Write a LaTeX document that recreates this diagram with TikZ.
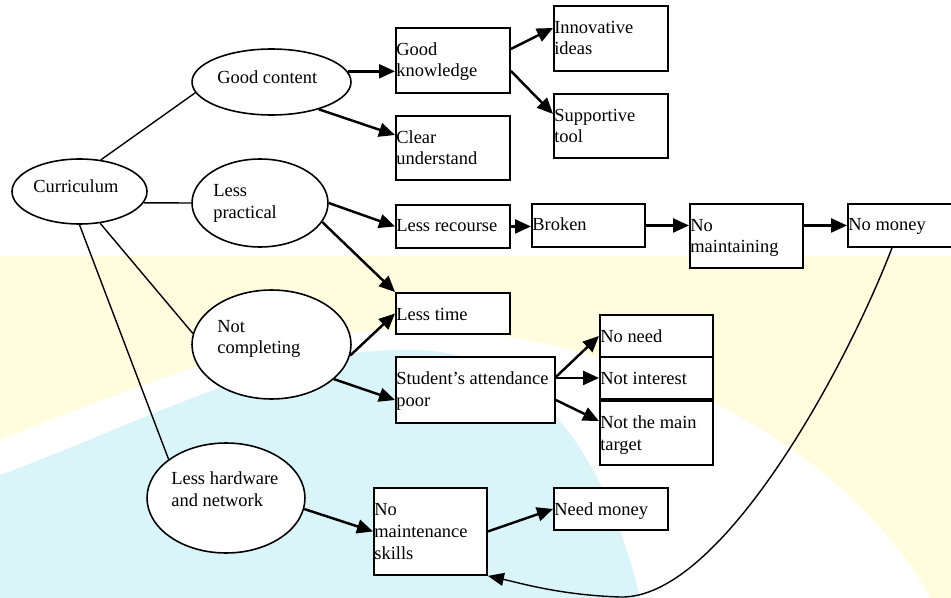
\documentclass[tikz,border=0pt]{standalone}
\usepackage{fontspec}
\setmainfont{Liberation Serif}
\usepackage{xcolor}
\usetikzlibrary{shapes.geometric,arrows.meta,calc}

\definecolor{bgyellow}{RGB}{255,253,222}
\definecolor{bgcyan}{RGB}{218,245,250}

\begin{document}
\begin{tikzpicture}[x=0.02cm,y=-0.02cm,
  oval/.style={draw,ellipse,line width=0.9pt,fill=white,inner sep=0pt},
  box/.style={draw,rectangle,line width=1.1pt,fill=white,anchor=north west,inner sep=0pt},
  txt/.style={anchor=base west,align=left,inner sep=0pt,font=\fontsize{10.5}{12.5}\selectfont},
  link/.style={line width=0.8pt},
  arr/.style={line width=1.4pt,-{Triangle[length=0.32cm,width=0.28cm]}}]

\useasboundingbox (0,0) rectangle (951,598);

% Background
\fill[bgyellow] (0,256) rectangle (951,598);
\fill[white] (0,440) .. controls (150,380) and (300,320) .. (450,330)
  .. controls (650,345) and (850,450) .. (930,598) -- (0,598) -- cycle;
\fill[bgcyan] (0,475) .. controls (150,420) and (280,345) .. (420,350)
  .. controls (520,355) and (600,430) .. (640,598) -- (0,598) -- cycle;

% Ovals
\node[oval,minimum width=2.70cm,minimum height=1.30cm] (cur) at (79.5,191.5) {};
\node[oval,minimum width=3.18cm,minimum height=1.32cm] (gc) at (271.5,82) {};
\node[oval,minimum width=2.72cm,minimum height=1.76cm] (lp) at (260,203) {};
\node[oval,minimum width=3.18cm,minimum height=2.18cm] (nc) at (271.5,344.5) {};
\node[oval,minimum width=3.16cm,minimum height=2.20cm] (lh) at (226,498) {};

% base of the last line
\node[txt] (curt) at (33,193) {Curriculum};
\node[txt] (gct) at (217,84) {Good content};
\node[txt] (lpt) at (213,218) {Less\\practical};
\node[txt] (nct) at (217,354) {Not\\completing};
\node[txt] (lht) at (171,506) {Less hardware\\and network};

% Boxes
\node[box,minimum width=2.28cm,minimum height=1.30cm] (gk) at (395,27) {};
\node[box,minimum width=2.28cm,minimum height=1.28cm] (cu) at (395,115) {};
\node[box,minimum width=2.28cm,minimum height=1.30cm] (ii) at (553,5) {};
\node[box,minimum width=2.28cm,minimum height=1.28cm] (st) at (553,93) {};
\node[box,minimum width=2.28cm,minimum height=0.86cm] (lr) at (395,204) {};
\node[box,minimum width=2.26cm,minimum height=0.86cm] (br) at (531,203) {};
\node[box,minimum width=2.26cm,minimum height=1.28cm] (nm) at (689,203) {};
\node[box,minimum width=2.20cm,minimum height=0.86cm] (nmo) at (847,203) {};
\node[box,minimum width=2.28cm,minimum height=0.82cm] (lt) at (395,292) {};
\node[box,minimum width=3.18cm,minimum height=1.32cm] (sa) at (395,356) {};
\node[box,minimum width=2.26cm,minimum height=0.84cm] (nn) at (599,314) {};
\node[box,minimum width=2.26cm,minimum height=0.84cm] (ni) at (599,356) {};
\node[box,minimum width=2.26cm,minimum height=1.28cm] (nt) at (599,400) {};
\node[box,minimum width=2.26cm,minimum height=1.74cm] (nms) at (373,487) {};
\node[box,minimum width=2.28cm,minimum height=0.84cm] (nd) at (553,487) {};

\node[txt] (gkt) at (396,77) {Good\\knowledge};
\node[txt] (cut) at (396,165) {Clear\\understand};
\node[txt] (iit) at (554,55) {Innovative\\ideas};
\node[txt] (stt) at (554,143) {Supportive\\tool};
\node[txt] (lrt) at (396,232) {Less recourse};
\node[txt] (brt) at (532,231) {Broken};
\node[txt] (nmt) at (690,253) {No\\maintaining};
\node[txt] (nmot) at (848,231) {No money};
\node[txt] (ltt) at (396,320) {Less time};
\node[txt] (sat) at (396,406) {Student’s attendance\\poor};
\node[txt] (nnt) at (600,342) {No need};
\node[txt] (nit) at (600,384) {Not interest};
\node[txt] (ntt) at (600,450) {Not the main\\target};
\node[txt] (nmst) at (374,559) {No\\maintenance\\skills};
\node[txt] (ndt) at (554,515) {Need money};

% Lines from Curriculum
\draw[link] (cur.56) -- (gc.188);
\draw[link] (cur.350) -- (lp.west);
\draw[link] (cur.303) -- (nc.172);
\draw[link] (cur.270) -- (lh.146);

% Arrows
\draw[arr] (gc.8) -- (gc.8 -| gk.west);
\draw[arr] (gc.330) -- ($(cu.north west)+(0,20)$);
\draw[arr] ($(gk.north east)+(0,22)$) -- ($(ii.north west)+(0,23)$);
\draw[arr] ($(gk.north east)+(0,44)$) -- ($(st.north west)+(0,21)$);
\draw[arr] (lp.east) -- (lr.west);
\draw[arr] (lp.343) -- (lt.north west);
\draw[arr] (lr.east) -- (lr.east -| br.west);
\draw[arr] (br.east) -- (br.east -| nm.west);
\draw[arr] (br.east -| nm.east) -- (br.east -| nmo.west);
\draw[arr] (nc.352) -- (lt.west);
\draw[arr] (nc.331) -- ($(sa.north west)+(0,44)$);
\draw[arr] ($(sa.north east)+(0,21)$) -- (nn.west);
\draw[arr] (ni.west -| sa.east) -- (ni.west);
\draw[arr] ($(sa.north east)+(0,44)$) -- ($(nt.north west)+(0,21)$);
\draw[arr] (lh.352) -- (nms.west);
\draw[arr] (nms.east) -- (nd.west);

% Curve back from No money
\draw[link,-{Triangle[length=0.32cm,width=0.26cm]}] ($(nmo.south west)+(45,0)$)
  .. controls (845,370) and (720,600) .. (620,597)
  .. controls (560,595) and (520,583) .. (nms.south east);

\end{tikzpicture}
\end{document}
